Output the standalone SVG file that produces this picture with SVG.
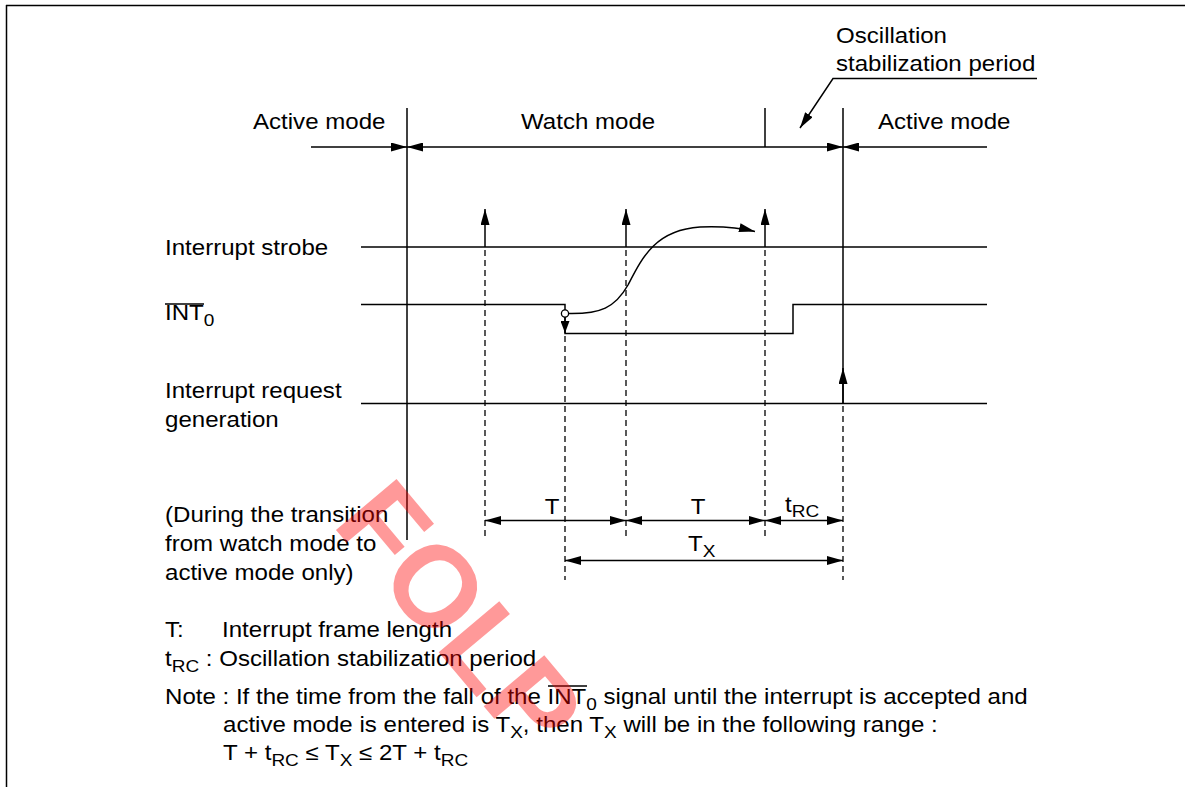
<svg xmlns="http://www.w3.org/2000/svg" width="1187" height="787" viewBox="0 0 1187 787">
<style>
.t{font-family:"Liberation Sans",Arial,Helvetica,sans-serif;font-size:21.5px;fill:#000}
.s{font-size:17px}
.ln{stroke:#000;stroke-width:1.5;fill:none}
.dash{stroke:#000;stroke-width:1.3;fill:none;stroke-dasharray:6 4}
.wm{font-family:"Liberation Sans",Arial,sans-serif;font-weight:bold;font-size:115px;fill:#ff0000;fill-opacity:0.4}
</style>
<defs>
<marker id="ah" viewBox="0 0 16 9" refX="16" refY="4.5" markerWidth="16" markerHeight="9" markerUnits="userSpaceOnUse" orient="auto-start-reverse"><path d="M0,0L16,4.5L0,9z" fill="#000"/></marker>
<marker id="ahs" viewBox="0 0 12 9" refX="12" refY="4.5" markerWidth="12" markerHeight="9" markerUnits="userSpaceOnUse" orient="auto-start-reverse"><path d="M0,0L12,4.5L0,9z" fill="#000"/></marker>
</defs>
<rect width="1187" height="787" fill="#fff"/>
<g id="frame" class="ln">
<path d="M6,5.5H1185M6.5,5V787"/>
</g>
<g id="labels">
<text class="t" transform="matrix(1.12 0 0 1 253 129)">Active mode</text>
<text class="t" transform="matrix(1.12 0 0 1 521 129)">Watch mode</text>
<text class="t" transform="matrix(1.12 0 0 1 878 129)">Active mode</text>
<text class="t" transform="matrix(1.12 0 0 1 836 43)">Oscillation</text>
<text class="t" transform="matrix(1.12 0 0 1 836 71)">stabilization period</text>
</g>
<g id="sig-strobe">
<text class="t" transform="matrix(1.12 0 0 1 165 255)">Interrupt strobe</text>
<path class="ln" d="M361,247H987"/>
</g>
<g id="sig-int0">
<text class="t" transform="matrix(1.12 0 0 1 165 320)">INT<tspan class="s" dy="6">0</tspan></text>
<path class="ln" d="M165,304H204"/>
<path class="ln" d="M361,304.5H565V310"/>
<circle cx="565" cy="313.5" r="3.6" fill="#fff" stroke="#000" stroke-width="1.3"/>
<path class="ln" d="M565,317V333.5H793V304.5H987"/>
</g>
<g id="sig-req">
<text class="t" transform="matrix(1.12 0 0 1 165 398)">Interrupt request</text>
<text class="t" transform="matrix(1.12 0 0 1 165 427)">generation</text>
<path class="ln" d="M361,403.5H987"/>
</g>
<g id="note-transition">
<text class="t" transform="matrix(1.12 0 0 1 165 522)">(During the transition</text>
<text class="t" transform="matrix(1.12 0 0 1 165 551)">from watch mode to</text>
<text class="t" transform="matrix(1.12 0 0 1 165 580)">active mode only)</text>
</g>
<g id="connectors">
<path class="ln" d="M407,108V540"/>
<path class="ln" d="M843,108V403"/>
<path class="ln" d="M765,108V147"/>
<path class="ln" d="M311,147H407" marker-end="url(#ah)"/>
<path class="ln" d="M407,147H843" marker-start="url(#ah)" marker-end="url(#ah)"/>
<path class="ln" d="M843,147H987" marker-start="url(#ah)"/>
<path class="ln" d="M1037,78.5H833L800,128" marker-end="url(#ah)"/>
<path class="ln" d="M485,247V209" marker-end="url(#ah)"/>
<path class="ln" d="M626,247V209" marker-end="url(#ah)"/>
<path class="ln" d="M765,247V209" marker-end="url(#ah)"/>
<path class="dash" d="M485,250V540M626,250V540M765,250V540M565,336V580M843,406V580"/>
<path class="ln" d="M843,403V368" marker-end="url(#ah)"/>
<path class="ln" d="M565,317V333" marker-end="url(#ahs)"/>
<path class="ln" d="M569,313.5C600,314 615,308 628,285C642,258 655,230 700,227C725,226 745,229 755,231.5" marker-end="url(#ah)"/>
<path class="ln" d="M485,520.5H626" marker-start="url(#ah)" marker-end="url(#ah)"/>
<path class="ln" d="M626,520.5H765" marker-start="url(#ah)" marker-end="url(#ah)"/>
<path class="ln" d="M765,520.5H843" marker-start="url(#ah)" marker-end="url(#ah)"/>
<path class="ln" d="M565,560.5H843" marker-start="url(#ah)" marker-end="url(#ah)"/>
</g>
<g id="timing-labels">
<text class="t" text-anchor="middle" transform="matrix(1.12 0 0 1 552 514)">T</text>
<text class="t" text-anchor="middle" transform="matrix(1.12 0 0 1 698 514)">T</text>
<text class="t" transform="matrix(1.12 0 0 1 785 512)">t<tspan class="s" dy="5">RC</tspan></text>
<text class="t" transform="matrix(1.12 0 0 1 688 551)">T<tspan class="s" dy="6">X</tspan></text>
</g>
<g id="legend">
<text class="t" transform="matrix(1.12 0 0 1 165 637)">T:</text>
<text class="t" transform="matrix(1.12 0 0 1 222 637)">Interrupt frame length</text>
<text class="t" transform="matrix(1.12 0 0 1 165 666)">t<tspan class="s" dy="6">RC</tspan><tspan dy="-6"> : Oscillation stabilization period</tspan></text>
<text class="t" transform="matrix(1.12 0 0 1 165 704)">Note : If the time from the fall of the INT<tspan class="s" dy="6">0</tspan><tspan dy="-6"> signal until the interrupt is accepted and</tspan></text>
<path class="ln" d="M548,686H587"/>
<text class="t" transform="matrix(1.12 0 0 1 223 732)">active mode is entered is T<tspan class="s" dy="6">X</tspan><tspan dy="-6">, then T</tspan><tspan class="s" dy="6">X</tspan><tspan dy="-6"> will be in the following range :</tspan></text>
<text class="t" transform="matrix(1.12 0 0 1 223 760)">T + t<tspan class="s" dy="6">RC</tspan><tspan dy="-6"> ≤ T</tspan><tspan class="s" dy="6">X</tspan><tspan dy="-6"> ≤ 2T + t</tspan><tspan class="s" dy="6">RC</tspan></text>
</g>
<g id="watermark">
<text class="wm" transform="translate(331,524) rotate(50)">FOLP</text>
</g>
</svg>
